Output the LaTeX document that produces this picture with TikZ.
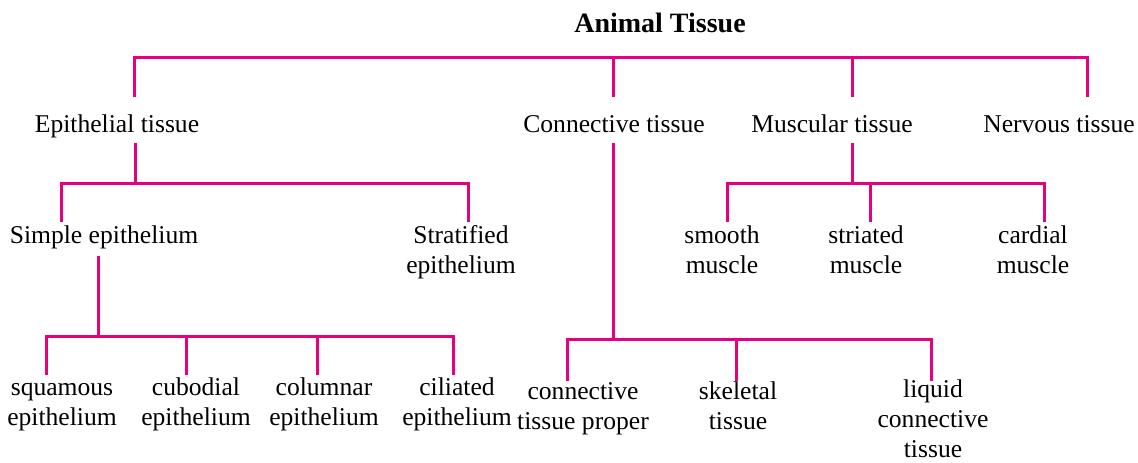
\documentclass[tikz,border=0pt]{standalone}
\usepackage{fontspec}
\setmainfont{Liberation Serif}
\usepackage{tikz}
\usepackage{xcolor}
\definecolor{tissuepink}{RGB}{230, 0, 126}

\begin{document}
\begin{tikzpicture}[x=1pt, y=-1pt,
    link/.style={line width=3pt, tissuepink},
    lbl/.style={inner sep=0pt, anchor=base, align=center, font=\fontsize{25.6}{30}\selectfont}]
    \useasboundingbox (0,0) rectangle (1138,463);

    % Root
    \node[lbl, font=\bfseries\fontsize{28}{32}\selectfont] (animal) at (660,32) {Animal Tissue};

    % Level 1
    \node[lbl] (epi) at (117,132) {Epithelial tissue};
    \node[lbl] (con) at (614,132) {Connective tissue};
    \node[lbl] (mus) at (832,132) {Muscular tissue};
    \node[lbl] (ner) at (1059,132) {Nervous tissue};

    % Level 2 (base = last line)
    \node[lbl] (simple) at (104,243) {Simple epithelium};
    \node[lbl] (strat) at (461,273) {Stratified\\epithelium};
    \node[lbl] (smooth) at (722,273) {smooth\\muscle};
    \node[lbl] (striated) at (866,273) {striated\\muscle};
    \node[lbl] (cardial) at (1033,273) {cardial\\muscle};

    % Level 3
    \node[lbl] (squamous) at (62,425) {squamous\\epithelium};
    \node[lbl] (cubodial) at (196,425) {cubodial\\epithelium};
    \node[lbl] (columnar) at (324,425) {columnar\\epithelium};
    \node[lbl] (ciliated) at (457,425) {ciliated\\epithelium};
    \node[lbl] (proper) at (583,429) {connective\\tissue proper};
    \node[lbl] (skeletal) at (738,429) {skeletal\\tissue};
    \node[lbl] (liquid) at (933,457) {liquid\\connective\\tissue};

    % Root bar
    \coordinate (rootbar) at (0,57);
    \coordinate (epiUp) at (134,97);
    \coordinate (conUp) at (613,97);
    \coordinate (musUp) at (852,97);
    \coordinate (nerUp) at (1087,97);
    \draw[link] (epiUp) |- (nerUp |- rootbar) -- (nerUp);
    \draw[link] (conUp) -- (conUp |- rootbar);
    \draw[link] (musUp) -- (musUp |- rootbar);

    % Epithelial bar
    \coordinate (epibar) at (0,183);
    \coordinate (epiDown) at (135,143);
    \coordinate (simUp) at (61,222);
    \coordinate (strUp) at (468,222);
    \draw[link] (epiDown) -- (epiDown |- epibar);
    \draw[link] (simUp) |- (strUp |- epibar) -- (strUp);

    % Muscular bar
    \coordinate (musbar) at (0,183);
    \coordinate (musDown) at (852,143);
    \coordinate (smoUp) at (727,222);
    \coordinate (triUp) at (870,222);
    \coordinate (carUp) at (1044,222);
    \draw[link] (musDown) -- (musDown |- musbar);
    \draw[link] (smoUp) |- (carUp |- musbar) -- (carUp);
    \draw[link] (triUp) -- (triUp |- musbar);

    % Simple epithelium bar
    \coordinate (simbar) at (0,336);
    \coordinate (simDown) at (98,256);
    \coordinate (squUp) at (46,375);
    \coordinate (cubUp) at (186,375);
    \coordinate (colUp) at (317,375);
    \coordinate (cilUp) at (453,375);
    \draw[link] (simDown) -- (simDown |- simbar);
    \draw[link] (squUp) |- (cilUp |- simbar) -- (cilUp);
    \draw[link] (cubUp) -- (cubUp |- simbar);
    \draw[link] (colUp) -- (colUp |- simbar);

    % Connective bar
    \coordinate (conbar) at (0,339);
    \coordinate (conDown) at (613,143);
    \coordinate (cprUp) at (567,381);
    \coordinate (skeUp) at (736,381);
    \coordinate (liqUp) at (931,381);
    \draw[link] (conDown) -- (conDown |- conbar);
    \draw[link] (cprUp) |- (liqUp |- conbar) -- (liqUp);
    \draw[link] (skeUp) -- (skeUp |- conbar);
\end{tikzpicture}
\end{document}
